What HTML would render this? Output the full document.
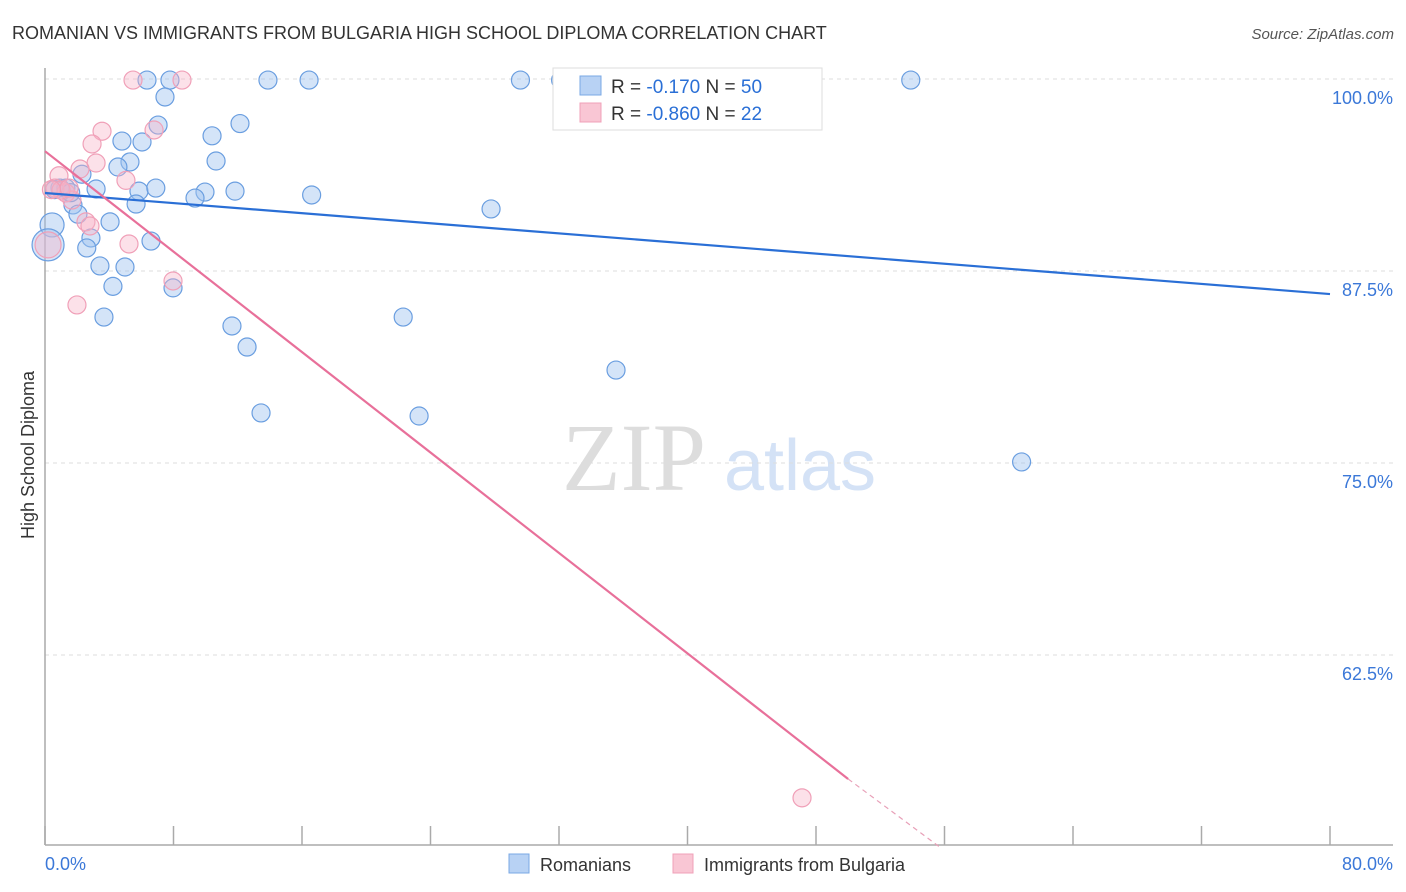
<!DOCTYPE html>
<html><head><meta charset="utf-8"><style>
body{margin:0;background:#fff;font-family:"Liberation Sans",sans-serif;}
svg{display:block}
</style></head><body>
<svg id="chart" width="1406" height="892" xmlns="http://www.w3.org/2000/svg">
<text x="12" y="39" font-size="18" fill="#333">ROMANIAN VS IMMIGRANTS FROM BULGARIA HIGH SCHOOL DIPLOMA CORRELATION CHART</text>
<text x="1394" y="39" font-size="15" fill="#555" text-anchor="end" font-style="italic">Source: ZipAtlas.com</text>
<g><text x="634" y="490" font-size="96" fill="#ddd" text-anchor="middle" font-family="Liberation Serif">ZIP</text><text x="800" y="490" font-size="72" fill="#d4e2f6" text-anchor="middle">atlas</text></g>
<text transform="translate(34,455) rotate(-90)" font-size="18" fill="#333" text-anchor="middle">High School Diploma</text>
<g id="grid"></g><g id="points"></g><g id="lines"></g>
<g>
<rect x="553" y="68" width="269" height="62" fill="#fff" stroke="#ddd"/>
<rect x="580" y="76" width="21" height="19" fill="#b8d2f4" stroke="#7aa8e4"/>
<rect x="580" y="103" width="21" height="19" fill="#f9c6d4" stroke="#f0a0b8"/>
<text x="611" y="93" font-size="19" fill="#333">R = <tspan fill="#2a6fd6"> -0.170</tspan>   N = <tspan fill="#2a6fd6">50</tspan></text>
<text x="611" y="120" font-size="19" fill="#333">R = <tspan fill="#2a6fd6">-0.860</tspan>   N = <tspan fill="#2a6fd6"> 22</tspan></text>
</g>
<g>
<rect x="509" y="854" width="20" height="19" fill="#b8d2f4" stroke="#7aa8e4"/>
<text x="540" y="871" font-size="18" fill="#333">Romanians</text>
<rect x="673" y="854" width="20" height="19" fill="#f9c6d4" stroke="#f0a0b8"/>
<text x="704" y="871" font-size="18" fill="#333">Immigrants from Bulgaria</text>
</g>
</svg>
<script>
const yTicks=[100,87.5,75,62.5];
const yTickLabels=["100.0%","87.5%","75.0%","62.5%"];
const xEndLabels=["0.0%","80.0%"];
const blueX=[6.35,7.78,13.88,16.44,29.6,32.1,53.9,7.47,7.04,12.14,10.4,4.79,6.04,10.65,5.29,4.54,2.3,0.93,3.18,5.85,6.9,9.96,11.83,16.6,9.34,5.67,1.74,27.77,2.05,4.05,0.44,2.86,6.6,0.19,2.6,3.42,4.98,4.23,7.97,3.67,22.3,11.64,12.58,35.55,13.45,23.29,60.8,1.3,1.6,0.6];
const blueY=[99.93,99.93,99.93,99.93,99.93,99.93,99.93,98.83,97.0,97.1,96.3,95.96,95.9,94.66,94.6,94.27,93.8,92.9,92.84,92.7,92.9,92.64,92.7,92.45,92.25,91.86,91.8,91.54,91.2,90.7,90.5,89.65,89.45,89.2,89.0,87.83,87.76,86.5,86.4,84.5,84.5,83.92,82.55,81.05,78.26,78.06,75.07,92.9,92.6,92.8];
const blueR=[9,9,9,9,9,9,9,9,9,9,9,9,9,9,9,9,9,9,9,9,9,9,9,9,9,9,9,9,9,9,12,9,9,16,9,9,9,9,9,9,9,9,9,9,9,9,9,9,9,9];
const pinkX=[5.48,8.53,3.55,6.79,2.93,3.18,2.18,5.04,0.87,0.62,1.3,1.68,2.55,2.8,5.23,0.19,7.97,1.99,47.13,1.0,1.5,0.4];
const pinkY=[99.93,99.93,96.6,96.68,95.77,94.53,94.14,93.4,93.7,92.9,92.58,92.12,90.7,90.43,89.26,89.2,86.85,85.29,53.2,92.77,92.9,92.8];
const blueTrend=[[0,92.58],[80,86.0]];
const pinkTrend=[[0,95.3],[50,54.43],[55.7,50]];
const X0=45,X1=1330,Y0=79,PX_PER=192/12.5;
const sx=v=>X0+(v/80)*(X1-X0);
const sy=v=>Y0+(100-v)*PX_PER;
const NS="http://www.w3.org/2000/svg";
function mk(tag,attrs,parent){const e=document.createElementNS(NS,tag);for(const k in attrs)e.setAttribute(k,attrs[k]);parent.appendChild(e);return e;}
const grid=document.getElementById('grid');
yTicks.forEach((t,i)=>{
 const l=mk('line',{x1:X0,x2:1393,y1:sy(t),y2:sy(t),stroke:'#ddd','stroke-dasharray':'4,4'},grid);
 
 
 const tx=mk('text',{x:1393,y:sy(t)+25,'font-size':18,fill:'#3b78d8','text-anchor':'end'},grid);
 tx.textContent=yTickLabels[i];
 
 
});
const ax=mk('line',{x1:X0,x2:X0,y1:68,y2:845,stroke:'#aaa','stroke-width':1.5},grid);


const bx=mk('line',{x1:X0,x2:1393,y1:845,y2:845,stroke:'#aaa','stroke-width':1.5},grid);


for(let v=0;v<=80;v+=8){const t=mk('line',{x1:sx(v),x2:sx(v),y1:826,y2:845,stroke:'#aaa','stroke-width':1.5},grid);
 
 }
const xl0=mk('text',{x:45,y:870,'font-size':18,fill:'#3b78d8'},grid);xl0.textContent=xEndLabels[0];


const xl1=mk('text',{x:1393,y:870,'font-size':18,fill:'#3b78d8','text-anchor':'end'},grid);xl1.textContent=xEndLabels[1];


const pts=document.getElementById('points');
blueX.forEach((x,i)=>{const c=mk('circle',{cx:sx(x),cy:sy(blueY[i]),r:blueR[i],fill:'rgba(160,196,240,0.45)',stroke:'#6a9ee0','stroke-width':1.2},pts);
 
 });
pinkX.forEach((x,i)=>{const c=mk('circle',{cx:sx(x),cy:sy(pinkY[i]),r:i==15?13:9,fill:'rgba(248,180,200,0.4)',stroke:'#f0a0b8','stroke-width':1.2},pts);
 
 });
const ln=document.getElementById('lines');
const bl=mk('line',{x1:sx(blueTrend[0][0]),y1:sy(blueTrend[0][1]),x2:sx(blueTrend[1][0]),y2:sy(blueTrend[1][1]),stroke:'#2a6fd6','stroke-width':2.2},ln);


const pl=mk('line',{x1:sx(pinkTrend[0][0]),y1:sy(pinkTrend[0][1]),x2:sx(pinkTrend[1][0]),y2:sy(pinkTrend[1][1]),stroke:'#e8709a','stroke-width':2.2},ln);


const pd=mk('line',{x1:sx(pinkTrend[1][0]),y1:sy(pinkTrend[1][1]),x2:sx(pinkTrend[2][0]),y2:sy(pinkTrend[2][1]),stroke:'#e8a0b8','stroke-width':1.2,'stroke-dasharray':'5,4'},ln);


</script>
</body></html>
